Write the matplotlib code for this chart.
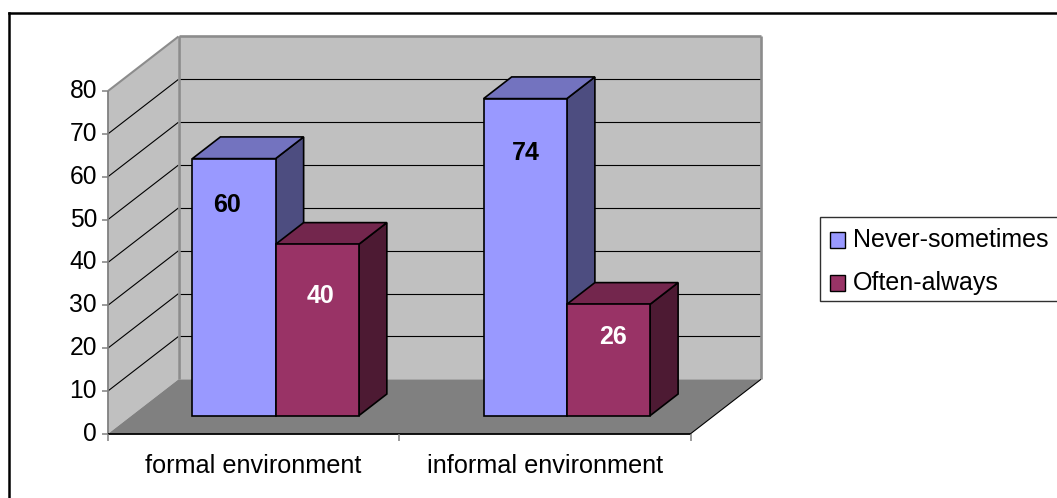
import matplotlib
matplotlib.use("Agg")
import matplotlib.pyplot as plt
from matplotlib.patches import Polygon, Rectangle
from matplotlib.lines import Line2D

plt.rcParams['font.family'] = ['Liberation Sans', 'DejaVu Sans']

# ---- data ----
categories = ["formal environment", "informal environment"]
series_names = ["Never-sometimes", "Often-always"]
never_sometimes = [60, 74]
often_always = [40, 26]
y_ticks = [0, 10, 20, 30, 40, 50, 60, 70, 80]

series_values = [never_sometimes, often_always]
front_colors = ["#9999FF", "#993366"]
top_colors = ["#7373BF", "#73264D"]
side_colors = ["#4D4D80", "#4D1A33"]
label_colors = ["black", "white"]
# label offsets (pixels) from the front-top centre of each bar
label_shift = {(0, 0): (-7, -46), (0, 1): (3, -52),
               (1, 0): (1, -54), (1, 1): (5, -33)}

W, H, DPI = 1057, 498, 100
fig = plt.figure(figsize=(W / DPI, H / DPI), dpi=DPI)
ax = fig.add_axes([0, 0, 1, 1])
ax.set_axis_off()

# plot frame: category axis 0..2 spans px 108..690.5, value axis starts at px 433.8
x_px0, x_ppu = 108.0, (690.5 - 108.0) / 2
y_px0, y_ppu = 433.8, 4.285
ax.set_xlim(-x_px0 / x_ppu, (W - x_px0) / x_ppu)
ax.set_ylim(-(H - y_px0) / y_ppu, y_px0 / y_ppu)

# oblique depth offset for the full floor depth
DX = 70.5 / x_ppu
DY = 54.5 / y_ppu
YMAX = 80
NCAT = len(categories)


def P(x, y, d):
    return (x + d * DX, y + d * DY)


def poly(pts, fc, ec="none", lw=0.0, z=1):
    ax.add_patch(Polygon(pts, closed=True, facecolor=fc, edgecolor=ec,
                         linewidth=lw, joinstyle="miter", zorder=z))


def seg(a, b, color, lw, z=2):
    ax.add_line(Line2D([a[0], b[0]], [a[1], b[1]], color=color, linewidth=lw,
                       zorder=z, solid_capstyle="butt"))


# walls and floor
poly([P(0, 0, 1), P(NCAT, 0, 1), P(NCAT, YMAX, 1), P(0, YMAX, 1)], "#C0C0C0")
poly([P(0, 0, 0), P(0, 0, 1), P(0, YMAX, 1), P(0, YMAX, 0)], "#C0C0C0")
poly([P(0, 0, 0), P(NCAT, 0, 0), P(NCAT, 0, 1), P(0, 0, 1)], "#808080")

# gridlines
for v in y_ticks[1:-1]:
    seg(P(0, v, 0), P(0, v, 1), "black", 0.8)
    seg(P(0, v, 1), P(NCAT, v, 1), "black", 0.8)

# wall edges
edge_gray = "#8C8C8C"
seg(P(0, 0, 1), P(0, YMAX, 1), edge_gray, 1.9)
seg(P(0, YMAX, 1), P(NCAT, YMAX, 1), edge_gray, 1.9)
seg(P(NCAT, 0, 1), P(NCAT, YMAX, 1), edge_gray, 1.9)
seg(P(0, YMAX, 0), P(0, YMAX, 1), edge_gray, 1.5)
seg(P(NCAT, 0, 0), P(NCAT, 0, 1), "black", 0.8)

# axes lines
seg(P(0, 0, 0), P(0, YMAX, 0), "#808080", 1.3, z=3)
seg(P(0, 0, 0), P(NCAT, 0, 0), "black", 1.3, z=3)

# ticks and tick labels
tick_x = 6.5 / x_ppu
for v in y_ticks:
    seg((-tick_x, v), (0, v), "#808080", 1.1, z=3)
    ax.text(-11 / x_ppu, v, str(v), ha="right", va="center", fontsize=17.7,
            color="black")
tick_y = 7 / y_ppu
for i in range(NCAT + 1):
    seg((i, 0), (i, -tick_y), "#808080", 1.1, z=3)
for i, name in enumerate(categories):
    ax.text(i + 0.5, -38.9 / y_ppu, name, ha="center", va="baseline",
            fontsize=18.2, color="black")

# bars
gap = 1.5
bar_w = 1.0 / (len(series_values) + gap)
d0, d1 = 0.332, 0.73
for ci in range(NCAT):
    left = ci + gap * bar_w / 2 - 0.005
    for si, vals in enumerate(series_values):
        v = vals[ci]
        x0 = left + si * bar_w
        x1 = x0 + bar_w
        ec, lw = "black", 1.2
        poly([P(x1, 0, d0), P(x1, 0, d1), P(x1, v, d1), P(x1, v, d0)],
             side_colors[si], ec, lw, z=5)
        poly([P(x0, v, d0), P(x1, v, d0), P(x1, v, d1), P(x0, v, d1)],
             top_colors[si], ec, lw, z=5)
        poly([P(x0, 0, d0), P(x1, 0, d0), P(x1, v, d0), P(x0, v, d0)],
             front_colors[si], ec, lw, z=5)
        cx, cy = P((x0 + x1) / 2, v, d0)
        sx, sy = label_shift[(ci, si)]
        ax.text(cx + sx / x_ppu, cy + sy / y_ppu, f"{v}", ha="center",
                va="center", fontsize=18, fontweight="bold",
                color=label_colors[si], zorder=6)


# legend and outer frame, placed in pixel units from the top-left corner
def fx(px):
    return px / W


def fy(py):
    return 1 - py / H


fig.add_artist(Rectangle((fx(819.5), fy(301)), fx(1060) - fx(819.5),
                         fy(216.7) - fy(301), transform=fig.transFigure,
                         facecolor="white", edgecolor="#303030", linewidth=1.0,
                         zorder=10))
for si, name in enumerate(series_names):
    cy = 240 + si * 42.7
    fig.add_artist(Rectangle((fx(829.5), fy(cy + 7.8)), fx(15.5), 15.5 / H,
                             transform=fig.transFigure,
                             facecolor=front_colors[si], edgecolor="black",
                             linewidth=1.0, zorder=11))
    fig.text(fx(853), fy(cy), name, ha="left", va="center", fontsize=18,
             color="black", zorder=11)

fig.add_artist(Line2D([fx(9), fx(W + 5)], [fy(13.3), fy(13.3)],
                      transform=fig.transFigure, color="black", linewidth=1.8))
fig.add_artist(Line2D([fx(9), fx(9)], [fy(13.3), fy(H + 5)],
                      transform=fig.transFigure, color="black", linewidth=1.8))

fig.savefig("out.png", dpi=DPI, facecolor="white")
